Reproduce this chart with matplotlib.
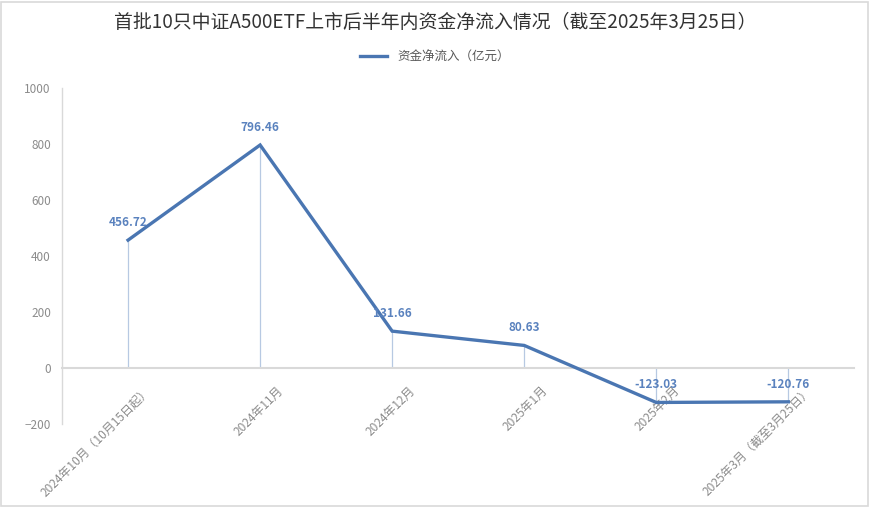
import matplotlib
matplotlib.use("Agg")
import matplotlib.pyplot as plt
import matplotlib.transforms as mtransforms
from matplotlib.patches import Rectangle

plt.rcParams['font.family'] = ['Noto Sans CJK SC', 'DejaVu Sans']

months = ['2024年10月（10月15日起）', '2024年11月', '2024年12月',
          '2025年1月', '2025年2月', '2025年3月（截至3月25日）']
net_inflow = [456.72, 796.46, 131.66, 80.63, -123.03, -120.76]
value_labels = ['456.72', '796.46', '131.66', '80.63', '-123.03', '-120.76']
series_name = '资金净流入（亿元）'
title = '首批10只中证A500ETF上市后半年内资金净流入情况（截至2025年3月25日）'

line_color = '#4A76B2'
label_color = '#5A82BE'
grey = '#8C8C8C'

fig = plt.figure(figsize=(8.7, 5.07), dpi=100)
ax = fig.add_axes([0.0713, 0.1637, 0.9107, 0.6627])

# category axis crosses at zero, labels hang below it
ax.spines['bottom'].set_position(('data', 0))
ax.spines['bottom'].set_color('#D9D9D9')
ax.spines['bottom'].set_linewidth(1.5)
for side in ['top', 'right']:
    ax.spines[side].set_visible(False)
ax.spines['left'].set_color('#D9D9D9')
ax.spines['left'].set_linewidth(1.0)

x = list(range(len(months)))
# drop lines from zero to each point
ax.vlines(x, 0, net_inflow, color='#B7C9E2', lw=0.9, zorder=1)
ax.plot(x, net_inflow, color=line_color, lw=2.4, label=series_name,
        solid_joinstyle='miter', zorder=3)

for xi, v, s in zip(x, net_inflow, value_labels):
    ax.annotate(s, (xi, v), xytext=(0, 8), textcoords='offset points',
                ha='center', va='bottom', fontsize=8.5, fontweight='bold',
                color=label_color, zorder=4)

ax.set_xlim(-0.5, len(months) - 0.5)
ax.set_ylim(-200, 1000)
ax.set_yticks(range(-200, 1001, 200))
ax.set_xticks(x)
ax.set_xticklabels(months, rotation=45, ha='right', va='top',
                   rotation_mode='anchor', fontsize=8.6, color=grey)
ax.tick_params(axis='y', labelsize=8.5, labelcolor=grey, length=0, pad=8)
ax.tick_params(axis='x', length=0, pad=0)

shift = mtransforms.ScaledTranslation(0.165, -0.16, fig.dpi_scale_trans)
for lbl in ax.get_xticklabels():
    lbl.set_transform(lbl.get_transform() + shift)

fig.text(0.5, 0.955, title, ha='center', va='center', fontsize=13.6, color='#333333')
fig.legend(loc='center', bbox_to_anchor=(0.5, 0.887), frameon=False,
           fontsize=9, labelcolor='#595959', handlelength=2.2)

fig.patches.append(Rectangle((0.001, 0.002), 0.997, 0.995, transform=fig.transFigure,
                             fill=False, edgecolor='#D9D9D9', lw=1.2))

fig.savefig('out.png', dpi=100, facecolor='white')
